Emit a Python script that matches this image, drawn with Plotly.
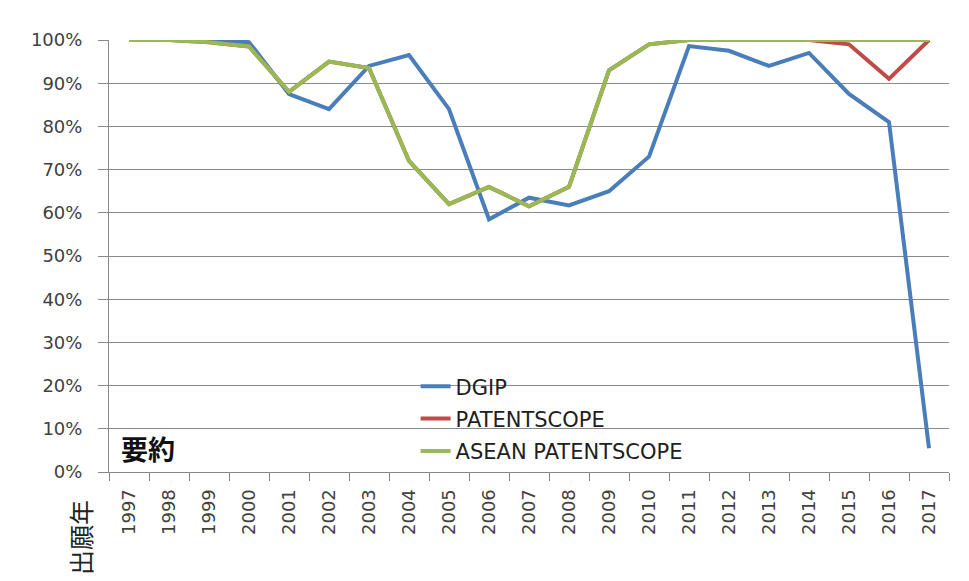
import plotly.graph_objects as go

years = [str(y) for y in range(1997, 2018)]

dgip = [1.00, 1.00, 1.00, 0.995, 0.875, 0.84, 0.94, 0.965, 0.84, 0.585, 0.635,
        0.617, 0.65, 0.73, 0.986, 0.975, 0.94, 0.97, 0.875, 0.81, 0.055]
patentscope = [1.00, 1.00, 0.995, 0.985, 0.88, 0.95, 0.935, 0.72, 0.62, 0.66, 0.615,
               0.66, 0.93, 0.99, 1.00, 1.00, 1.00, 1.00, 0.99, 0.91, 1.00]
asean = [1.00, 1.00, 0.995, 0.985, 0.88, 0.95, 0.935, 0.72, 0.62, 0.66, 0.615,
         0.66, 0.93, 0.99, 1.00, 1.00, 1.00, 1.00, 1.00, 1.00, 1.00]

series = [
    ("DGIP", dgip, "#4A7EBB"),
    ("PATENTSCOPE", patentscope, "#BE4B48"),
    ("ASEAN PATENTSCOPE", asean, "#98B954"),
]

fig = go.Figure()
for name, vals, color in series:
    fig.add_trace(go.Scatter(x=years, y=vals, name=name, mode="lines", legendgroup=name,
                             line=dict(color=color, width=4), cliponaxis=False))

font = "'DejaVu Sans', sans-serif"

# page body has an 8px margin, so the figure is a bit smaller than the window
fig.update_layout(
    width=961, height=573,
    paper_bgcolor="white", plot_bgcolor="white",
    margin=dict(l=101, r=20, t=32, b=109),
    font=dict(family=font, size=18, color="#404040"),
    showlegend=True,
    legend=dict(x=0.365, y=0.245, xanchor="left", yanchor="top",
                bgcolor="rgba(0,0,0,0)", font=dict(size=21, color="#202020"),
                tracegroupgap=2),
    xaxis=dict(type="category", range=[-0.5, len(years) - 0.5], automargin=False,
               showgrid=False, showline=True, linecolor="#888888",
               linewidth=1, ticks="outside", tickson="boundaries", ticklen=8,
               tickcolor="#888888", tickangle=-90, ticklabelstandoff=9,
               tickfont=dict(size=18)),
    yaxis=dict(range=[0, 1], tickformat=".0%", dtick=0.1, automargin=False,
               showgrid=True, gridcolor="#8a8a8a", gridwidth=1, showline=True,
               linecolor="#888888", ticks="outside", ticklen=10, tickcolor="#888888",
               ticklabelstandoff=12, zeroline=False, tickfont=dict(size=18)),
    shapes=[
        dict(type="rect", xref="paper", yref="paper", x0=0.306, x1=0.726,
             y0=0.012, y1=0.248, fillcolor="white", line=dict(width=0),
             layer="between"),
    ],
    annotations=[
        dict(text="<b>要約</b>", x=0.012, y=0.055, xref="paper", yref="paper",
             xanchor="left", yanchor="middle", showarrow=False,
             font=dict(family="Noto Sans CJK JP", size=27, color="#111111")),
        dict(text="出願年", x=-0.0345, y=-0.153, xref="paper", yref="paper",
             xanchor="center", yanchor="middle", showarrow=False, textangle=-90,
             font=dict(family="Noto Sans CJK JP", size=25, color="#222222")),
    ],
)

fig.write_html("out.html")
